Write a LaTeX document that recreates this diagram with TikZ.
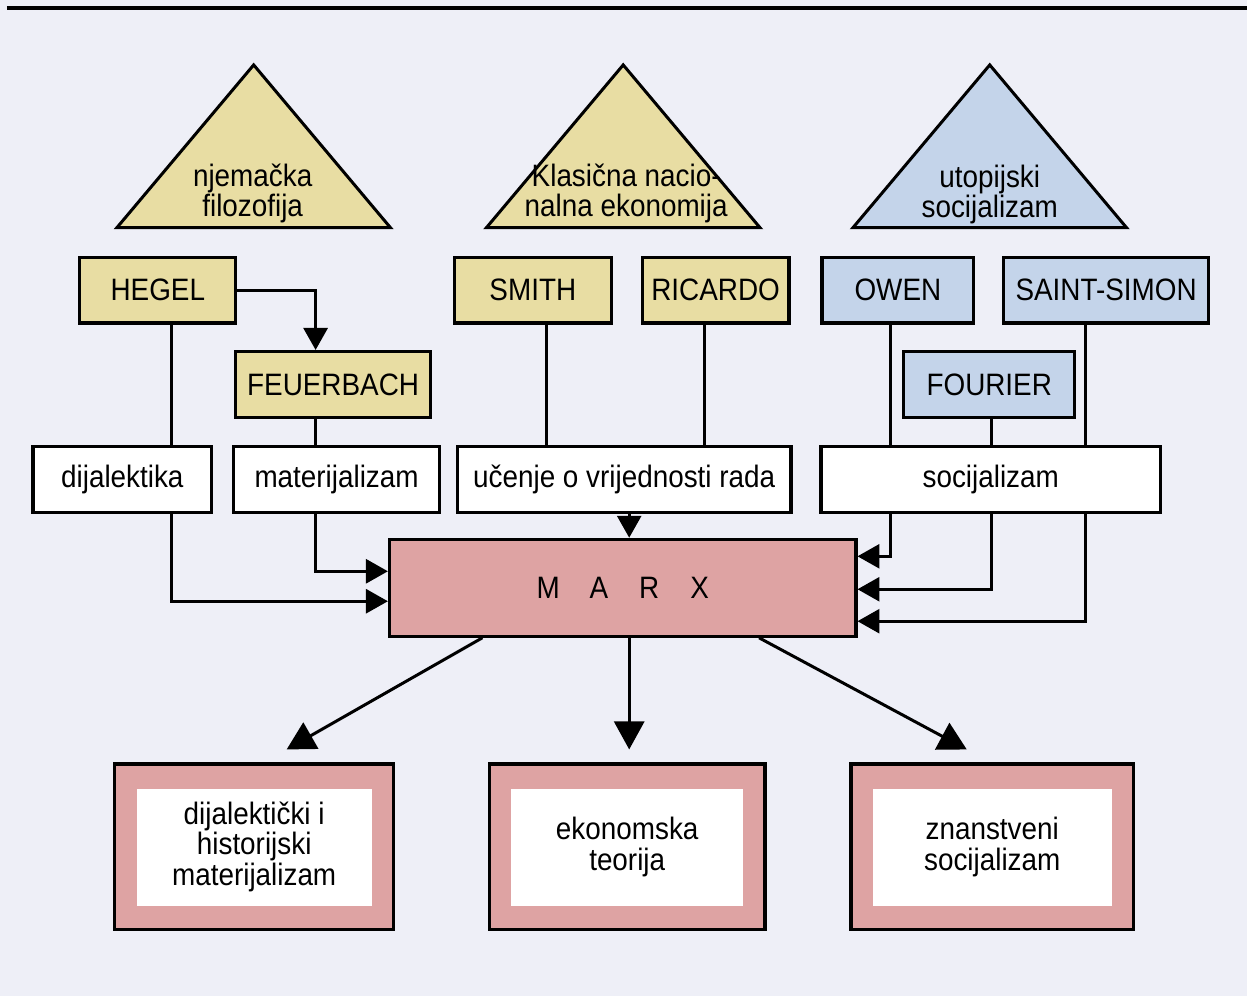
\documentclass[tikz,border=0pt]{standalone}
\usepackage{fontspec}
\setmainfont{Liberation Sans}[FakeStretch=0.9]
\usetikzlibrary{arrows.meta,calc}
\definecolor{pagebg}{RGB}{238,239,247}
\definecolor{sand}{RGB}{232,221,163}
\definecolor{lightsky}{RGB}{196,212,234}
\definecolor{rose}{RGB}{222,163,163}
\tikzset{
	label text/.style={align=center, font=\fontsize{15.5}{15.2}\selectfont},
	box/.style={label text, draw, line width=1.6pt, inner sep=0pt, minimum height=33pt},
	sandbox/.style={box, fill=sand},
	skybox/.style={box, fill=lightsky},
	plainbox/.style={box, fill=white},
	marxbox/.style={box, fill=rose, minimum height=48.5pt},
	resultbox/.style={box, fill=rose, minimum height=83pt,
		path picture={\fill[white] ([shift={(11pt,-12.5pt)}]path picture bounding box.north west)
			rectangle ([shift={(-11pt,12pt)}]path picture bounding box.south east);}},
	link/.style={line width=1.5pt},
	arr/.style={link, -{Triangle[length=11pt,width=12pt]}},
	bigarr/.style={link, -{Triangle[length=14pt,width=15pt]}},
}
\def\pyramidHalf{137}
\def\pyramidTop{65}
\def\pyramidBase{228}

\begin{document}
\begin{tikzpicture}[x=0.5pt,y=-0.5pt]
\fill[pagebg] (0,0) rectangle (1249,997);
\draw[line width=1.6pt] (7,8) -- (1249,8);
\foreach \cx/\col in {254/sand,624/sand,991/lightsky}
{
	\filldraw[fill=\col, line width=1.5pt] (\cx-\pyramidHalf,\pyramidBase) -- (\cx,\pyramidTop)
		-- (\cx+\pyramidHalf,\pyramidBase) -- cycle;
}
\node[label text] (filo) at (253,194) {njemačka\\filozofija};
\node[label text] (ekon) at (627,194) {Klasična nacio-\\nalna ekonomija};
\node[label text] (utop) at (991,195) {utopijski\\socijalizam};

\node[sandbox, minimum width=78pt] (hegel) at (158,290.5) {HEGEL};
\node[sandbox, minimum width=78.5pt] (smith) at (533.5,290.5) {SMITH};
\node[sandbox, minimum width=73.5pt] (ricardo) at (716.5,290.5) {RICARDO};
\node[skybox, minimum width=76pt] (owen) at (899,290.5) {OWEN};
\node[skybox, minimum width=102.5pt] (saintsimon) at (1107.5,290.5) {SAINT-SIMON};
\node[sandbox, minimum width=97.5pt] (feuerbach) at (333.5,385) {FEUERBACH};
\node[skybox, minimum width=85.5pt] (fourier) at (990.5,385) {FOURIER};

\node[plainbox, minimum width=89.5pt] (dijal) at (122.5,480) {dijalektika};
\node[plainbox, minimum width=103pt] (materij) at (337,480) {materijalizam};
\node[plainbox, minimum width=167pt] (ucenje) at (625,480) {učenje o vrijednosti rada};
\node[plainbox, minimum width=170pt] (soc) at (992,480) {socijalizam};

\node[marxbox, minimum width=233.5pt] (marx) at (623.5,588.5) {M\hspace{15pt}A\hspace{15.5pt}R\hspace{15.5pt}X};

\node[resultbox, minimum width=139.5pt] (histmat) at (254.5,848) {dijalektički i\\historijski\\materijalizam};
\node[resultbox, minimum width=138pt] (ekteor) at (628,848) {ekonomska\\teorija};
\node[resultbox, minimum width=141.5pt] (znsoc) at (993.5,848) {znanstveni\\socijalizam};

\draw[arr] (hegel.east) -| ($(feuerbach.north)+(-17.5,0)$);
\draw[link] ($(hegel.south)+(14,0)$) -- ($(hegel.south|-dijal.north)+(14,0)$);
\draw[link] ($(feuerbach.south)+(-17.5,0)$) -- ($(feuerbach.south|-materij.north)+(-17.5,0)$);
\draw[link] ($(smith.south)+(13.5,0)$) -- ($(smith.south|-ucenje.north)+(13.5,0)$);
\draw[link] ($(ricardo.south)+(-11.5,0)$) -- ($(ricardo.south|-ucenje.north)+(-11.5,0)$);
\draw[link] ($(owen.south)+(-7,0)$) -- ($(owen.south|-soc.north)+(-7,0)$);
\draw[link] ($(saintsimon.south)+(-20.5,0)$) -- ($(saintsimon.south|-soc.north)+(-20.5,0)$);
\draw[link] ($(fourier.south)+(2.5,0)$) -- ($(fourier.south|-soc.north)+(2.5,0)$);

\draw[arr] ($(dijal.south)+(49.5,0)$) |- ($(marx.west)+(0,13.5)$);
\draw[arr] ($(materij.south)+(-21,0)$) |- ($(marx.west)+(0,-16.5)$);
\draw[arr] ($(ucenje.south)+(5,0)$) -- ($(ucenje.south|-marx.north)+(5,0)$);
\draw[arr] ($(soc.south)+(-100,0)$) |- ($(marx.east)+(0,-31.5)$);
\draw[arr] ($(soc.south)+(1,0)$) |- ($(marx.east)+(0,1.5)$);
\draw[arr] ($(soc.south)+(95,0)$) |- ($(marx.east)+(0,33.5)$);

\draw[bigarr] ($(marx.south)+(-140.5,0)$) -- ($(histmat.north)+(32.5,-13)$);
\draw[bigarr] ($(marx.south)+(6.5,0)$) -- ($(ekteor.north)+(2,-13)$);
\draw[bigarr] ($(marx.south)+(136.5,0)$) -- ($(znsoc.north)+(-25.5,-13)$);
\end{tikzpicture}
\end{document}
